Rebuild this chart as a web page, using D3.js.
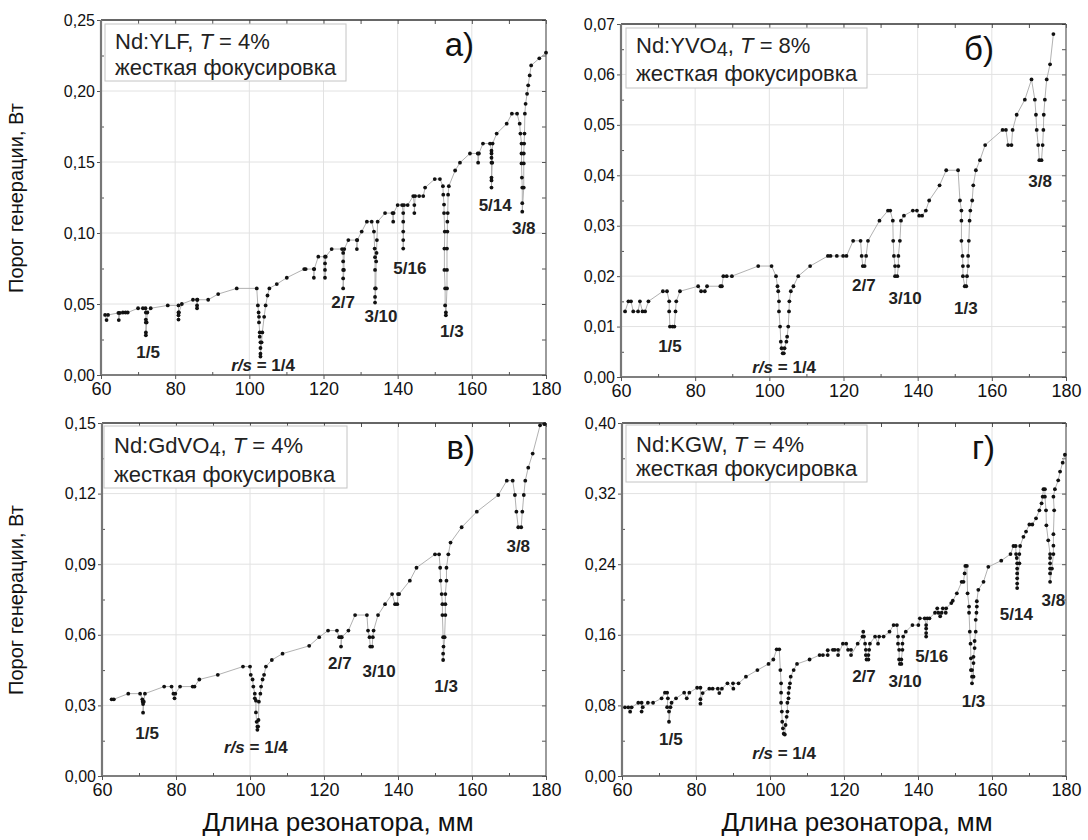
<!DOCTYPE html>
<html><head><meta charset="utf-8">
<script src="https://cdn.jsdelivr.net/npm/d3@7"></script>
<style>body{margin:0;background:#fff}svg{font-family:"Liberation Sans",Arial,sans-serif}</style>
</head><body>
<svg id="c" width="1088" height="840"></svg>
<script>
// ---------- DATA ----------
const xTicks = [60, 80, 100, 120, 140, 160, 180];
const xMinor = [70, 90, 110, 130, 150, 170];
const yTicksYLF = [0, 0.05, 0.10, 0.15, 0.20, 0.25];
const yTicksYVO = [0, 0.01, 0.02, 0.03, 0.04, 0.05, 0.06, 0.07];
const yTicksGdVO = [0, 0.03, 0.06, 0.09, 0.12, 0.15];
const yTicksKGW = [0, 0.08, 0.16, 0.24, 0.32, 0.40];

const dataYLF = [
[61.1,0.0423],[61.5,0.0387],[61.9,0.0423],
[64.7,0.0437],[64.8,0.0387],[65.1,0.0437],[65.9,0.044],[66.6,0.044],[67.2,0.044],
[70.0,0.047],[71.3,0.047],
[72.0,0.047],[72.1,0.044],[72.1,0.039],[72.1,0.037],[72.1,0.030],[72.1,0.028],[72.3,0.037],[72.5,0.044],
[73.4,0.047],[78.0,0.049],
[80.9,0.049],[80.9,0.044],[80.9,0.042],[80.9,0.039],[81.0,0.044],[81.8,0.050],
[84.8,0.053],[85.9,0.053],[85.9,0.049],[85.9,0.047],[86.0,0.053],
[88.9,0.053],[91.6,0.057],[96.6,0.061],
[102.0,0.061],[102.3,0.049],[102.5,0.044],[102.6,0.041],[102.6,0.037],[102.8,0.030],[102.8,0.027],[103.0,0.023],[103.0,0.019],[103.0,0.015],[103.0,0.013],[103.3,0.023],[103.5,0.030],[104.0,0.041],[104.4,0.049],[104.9,0.056],[105.4,0.061],
[107.4,0.064],[110.1,0.0685],
[114.8,0.0746],[115.2,0.0746],
[117.4,0.0746],[117.4,0.0685],[117.5,0.0746],
[118.6,0.0833],
[120.4,0.0833],[120.4,0.0786],[120.4,0.074],[120.4,0.0685],[120.6,0.0833],
[122.2,0.0887],
[125.0,0.0887],[125.3,0.086],[125.3,0.080],[125.3,0.074],[125.3,0.068],[125.3,0.061],[125.5,0.074],[125.6,0.0887],
[126.7,0.095],
[129.0,0.095],[129.0,0.0887],[129.1,0.095],
[130.3,0.101],
[131.7,0.108],[133.0,0.108],
[133.6,0.101],[133.8,0.089],[133.9,0.083],[133.9,0.074],[133.9,0.061],[133.9,0.055],[133.9,0.051],[134.1,0.061],[134.2,0.080],[134.3,0.086],[134.4,0.095],[134.6,0.108],
[136.6,0.114],[138.6,0.114],[138.8,0.108],[138.9,0.114],
[140.0,0.1197],[141.2,0.1197],[141.5,0.114],[141.5,0.108],[141.5,0.101],[141.5,0.095],[141.5,0.089],[141.7,0.1197],[142.7,0.1197],
[144.2,0.126],[144.5,0.1197],[144.5,0.114],[144.7,0.126],[145.8,0.126],[146.9,0.126],
[147.4,0.132],
[150.0,0.138],[151.4,0.138],
[152.2,0.133],[152.3,0.127],[152.5,0.120],[152.5,0.114],[152.7,0.101],[152.6,0.089],[152.6,0.074],[152.8,0.061],[152.8,0.049],[153.0,0.044],[153.0,0.042],[153.3,0.061],[153.3,0.074],[153.3,0.089],[153.4,0.101],[153.4,0.108],[153.5,0.114],[153.6,0.127],[153.8,0.133],
[155.5,0.144],[156.8,0.1495],[159.5,0.156],
[161.6,0.156],[161.7,0.1495],[161.9,0.156],
[163.0,0.163],
[164.9,0.163],[165.3,0.158],[165.3,0.156],[165.3,0.153],[165.3,0.1495],[165.3,0.139],[165.3,0.137],[165.3,0.132],[165.5,0.1495],[165.6,0.163],
[166.7,0.170],[169.4,0.177],
[170.8,0.184],[172.2,0.184],
[172.9,0.177],[173.1,0.170],[173.4,0.163],[173.4,0.156],[173.4,0.149],[173.5,0.139],[173.6,0.132],[173.6,0.121],[173.6,0.115],[174.0,0.132],[174.0,0.149],[174.0,0.156],[174.1,0.163],[174.2,0.170],[174.3,0.184],
[174.5,0.191],[174.9,0.198],[175.2,0.204],[175.6,0.211],[176.0,0.218],
[178.2,0.223],[180.0,0.227]
];

const dataYVO = [
[61.1,0.013],[62.0,0.015],[62.7,0.015],[63.3,0.013],[64.6,0.013],[65.1,0.015],[65.8,0.013],[66.5,0.013],[67.4,0.015],
[71.3,0.017],[72.4,0.017],
[73.0,0.015],[73.0,0.013],[73.2,0.010],[73.9,0.010],[74.4,0.010],[74.7,0.013],[74.9,0.015],
[75.9,0.017],
[80.8,0.018],[81.6,0.017],[82.6,0.017],[83.2,0.018],
[86.8,0.018],[87.2,0.018],[87.6,0.020],[88.5,0.020],[89.9,0.020],
[97.0,0.022],[100.6,0.022],
[101.8,0.020],[102.2,0.018],[102.4,0.017],[102.6,0.015],[102.6,0.013],[102.9,0.010],[103.1,0.007],[103.3,0.0057],[103.6,0.0047],[103.9,0.0047],[104.1,0.0057],[104.6,0.007],[104.8,0.008],[105.1,0.010],[105.3,0.013],[105.4,0.015],[105.8,0.017],[106.5,0.018],[107.8,0.020],
[111.0,0.022],
[115.8,0.024],[116.5,0.024],[118.2,0.024],[119.9,0.024],[120.8,0.024],
[122.6,0.027],
[124.6,0.027],[124.9,0.024],[125.2,0.022],[125.7,0.022],[126.1,0.024],[126.6,0.027],
[129.7,0.031],
[132.0,0.033],[132.6,0.033],
[133.3,0.031],[133.4,0.027],[133.6,0.024],[133.9,0.022],[133.9,0.020],[134.5,0.020],[134.8,0.022],[134.8,0.024],[135.2,0.027],[135.5,0.031],
[136.3,0.032],
[138.7,0.033],[139.8,0.033],[140.4,0.032],[141.2,0.032],[142.2,0.033],
[143.1,0.035],[145.9,0.038],
[147.7,0.041],[150.9,0.041],
[151.4,0.035],[151.8,0.033],[151.8,0.031],[151.8,0.027],[152.1,0.024],[152.2,0.022],[152.2,0.020],[152.7,0.018],[153.1,0.018],[153.3,0.020],[153.6,0.022],[153.6,0.024],[153.8,0.027],[154.0,0.031],[154.2,0.033],[154.7,0.035],[155.0,0.038],
[155.7,0.041],[156.8,0.043],[158.2,0.046],
[162.9,0.049],[163.8,0.049],[164.4,0.046],[165.3,0.046],[165.6,0.049],
[166.7,0.052],[168.9,0.055],[170.7,0.059],
[171.6,0.055],[171.9,0.052],[172.1,0.049],[172.5,0.046],[172.8,0.043],[173.4,0.043],[173.7,0.046],[173.9,0.049],[174.0,0.052],[174.3,0.055],[174.8,0.059],
[175.7,0.062],[176.6,0.068]
];

const dataGdVO = [
[62.6,0.0326],[63.2,0.0326],
[67.1,0.035],
[70.3,0.035],[70.9,0.0326],[71.0,0.0316],[71.1,0.0306],[71.1,0.0269],[71.3,0.0316],[71.6,0.035],
[76.8,0.038],
[78.8,0.038],[79.3,0.035],[79.6,0.033],[79.8,0.035],
[81.1,0.038],[84.5,0.038],[85.0,0.038],
[86.3,0.041],[91.3,0.043],
[98.1,0.0465],[100.0,0.0465],
[100.2,0.043],[100.7,0.041],[100.9,0.038],[101.3,0.035],[101.3,0.033],[101.6,0.032],[101.6,0.027],[101.8,0.023],[102.0,0.021],[102.0,0.0196],[102.2,0.021],[102.3,0.0238],[102.4,0.0316],[102.8,0.035],[103.0,0.038],[103.4,0.041],[103.8,0.043],[104.3,0.0465],
[105.9,0.0493],[108.8,0.052],[116.0,0.0553],[118.7,0.059],
[121.1,0.0618],[123.5,0.0618],
[124.1,0.059],[124.6,0.059],[124.6,0.055],[124.8,0.059],
[126.6,0.0618],
[128.4,0.0684],[131.6,0.0684],
[131.9,0.0618],[132.3,0.059],[132.5,0.055],[133.0,0.055],[133.2,0.059],[133.4,0.0618],
[134.6,0.0684],[136.5,0.073],
[138.4,0.0773],[139.2,0.073],[139.8,0.073],[140.0,0.0773],[140.3,0.0773],
[143.2,0.083],[145.0,0.0885],
[150.0,0.0942],[151.1,0.0942],
[151.4,0.0885],[151.5,0.083],[151.8,0.0773],[152.0,0.073],[152.0,0.0684],[152.2,0.059],[152.3,0.055],[152.2,0.052],[152.2,0.0493],[152.6,0.059],[152.8,0.0684],[152.8,0.073],[152.8,0.0773],[153.1,0.083],[153.1,0.0885],[153.6,0.0942],
[154.2,0.0992],[157.2,0.1057],[161.3,0.1123],[167.1,0.1194],
[169.4,0.1255],[171.0,0.1255],
[171.6,0.1194],[172.0,0.1123],[172.5,0.1057],[173.3,0.1057],[173.6,0.1123],[174.0,0.1194],[174.4,0.1255],
[175.2,0.131],[176.4,0.137],[178.4,0.149],[179.6,0.1495]
];

const dataKGW = [
[60.8,0.0778],[61.7,0.0778],[62.2,0.0729],[62.6,0.0778],
[64.4,0.083],[65.3,0.083],[65.3,0.073],[65.6,0.078],
[67.0,0.083],[68.4,0.083],
[70.7,0.088],[71.6,0.0944],[72.2,0.0944],
[72.4,0.088],[72.2,0.078],[72.7,0.073],[72.7,0.0615],[73.1,0.078],[73.4,0.083],
[74.6,0.088],
[76.8,0.0944],[77.5,0.088],[78.2,0.0944],
[80.3,0.100],[81.2,0.100],[81.2,0.087],[81.2,0.082],[81.8,0.094],
[83.6,0.099],[84.5,0.099],[85.9,0.099],[86.3,0.094],[87.0,0.099],
[88.5,0.105],[90.1,0.099],[90.0,0.105],[91.5,0.105],
[93.5,0.1125],[96.6,0.120],[99.6,0.127],[100.9,0.132],
[101.8,0.1435],[102.5,0.1435],
[102.8,0.120],[103.0,0.105],[103.0,0.0944],[103.0,0.083],[103.2,0.073],[103.3,0.0615],[103.5,0.054],[103.7,0.048],[104.0,0.047],[104.2,0.0578],[104.5,0.067],[104.7,0.073],[104.7,0.083],[105.0,0.088],[105.0,0.094],[105.2,0.100],[105.4,0.105],[105.6,0.1125],[106.4,0.120],[107.3,0.127],
[110.7,0.132],
[113.4,0.137],[114.3,0.137],[115.6,0.137],[115.6,0.1425],
[117.0,0.143],[117.5,0.143],[118.4,0.143],[118.4,0.137],
[119.7,0.150],[120.6,0.150],
[121.1,0.143],[121.9,0.143],[121.9,0.137],
[123.7,0.150],
[125.0,0.158],[125.2,0.1635],[125.4,0.158],[125.7,0.150],[125.9,0.143],[125.9,0.137],[126.1,0.132],[126.6,0.132],[126.6,0.137],[126.8,0.143],[127.0,0.150],
[128.4,0.158],[129.2,0.150],[129.5,0.158],[130.7,0.158],
[132.3,0.1635],
[133.4,0.171],[134.3,0.171],
[134.6,0.158],[134.6,0.150],[134.9,0.143],[134.9,0.132],[135.1,0.127],[135.5,0.127],[135.5,0.132],[135.8,0.143],[135.8,0.150],[136.0,0.158],
[136.7,0.1635],
[138.5,0.171],[140.1,0.171],
[140.5,0.1787],[141.8,0.1787],
[142.2,0.171],[142.2,0.167],[142.2,0.162],[142.2,0.158],[142.5,0.1787],[143.1,0.1787],
[144.6,0.185],[145.2,0.190],[145.5,0.185],[146.0,0.181],[146.4,0.185],[146.7,0.190],[147.5,0.185],[147.6,0.190],
[149.0,0.196],[149.4,0.1986],[150.5,0.207],
[151.8,0.220],[152.3,0.220],
[152.6,0.2296],[152.8,0.238],[153.2,0.238],
[153.4,0.207],[153.8,0.192],[153.8,0.185],[154.0,0.1635],[154.2,0.150],[154.3,0.1333],[154.3,0.120],[154.6,0.120],[154.6,0.1125],[154.6,0.105],
[155.0,0.1125],[155.0,0.128],[155.0,0.135],[155.3,0.145],[155.3,0.153],[155.6,0.1635],[155.6,0.177],[155.8,0.185],[155.9,0.192],[155.9,0.198],[156.3,0.211],[157.7,0.220],[159.0,0.237],
[162.5,0.244],[165.0,0.2515],
[165.8,0.2606],[166.4,0.2606],
[166.5,0.2515],[166.7,0.247],[166.8,0.241],[166.8,0.235],[166.8,0.2296],[166.8,0.224],[166.8,0.218],[166.8,0.213],[167.4,0.241],[167.4,0.2515],[167.6,0.2606],
[168.5,0.271],[169.2,0.277],
[170.1,0.285],[170.9,0.285],
[171.9,0.292],[172.8,0.301],[173.4,0.309],[173.7,0.3165],[173.9,0.325],[174.3,0.325],
[174.3,0.3165],[174.6,0.301],[174.7,0.284],[175.2,0.267],[175.7,0.2515],[175.7,0.247],[175.7,0.241],[175.7,0.235],[175.7,0.2296],[175.7,0.220],
[176.2,0.235],[176.6,0.2515],[176.6,0.261],[176.6,0.274],[176.8,0.301],[176.6,0.3165],[177.0,0.325],[177.9,0.335],[178.4,0.345],[179.1,0.355],[179.7,0.364]
];

const labelsYLF = [["1/5",72.7,0.0155],["r/s = 1/4",103.7,0.007],["2/7",125.3,0.051],["3/10",135.5,0.041],["5/16",143.3,0.075],["1/3",154.6,0.0305],["5/14",166.3,0.1197],["3/8",174,0.103]];
const labelsYVO = [["1/5",73.2,0.006],["r/s = 1/4",104,0.0019],["2/7",125.5,0.0182],["3/10",136.6,0.0156],["1/3",153,0.0136],["3/8",173,0.0387]];
const labelsGdVO = [["1/5",72.2,0.0179],["r/s = 1/4",101.6,0.0125],["2/7",124.3,0.048],["3/10",134.9,0.0443],["1/3",153,0.038],["3/8",172.5,0.0977]];
const labelsKGW = [["1/5",73.2,0.0415],["r/s = 1/4",103.8,0.0264],["2/7",125.4,0.113],["3/10",136.5,0.107],["5/16",143.7,0.135],["1/3",155,0.084],["5/14",166.6,0.1835],["3/8",176.6,0.199]];

const legendNames = [["Nd:YLF",null,"4%"],["Nd:YVO","4","8%"],["Nd:GdVO","4","4%"],["Nd:KGW",null,"4%"]];
const legendLine2 = "жесткая фокусировка";
const panelLetters = ["а)","б)","в)","г)"];
const yTitle = "Порог генерации, Вт";
const xTitle = "Длина резонатора, мм";

// ---------- LAYOUT ----------
const panels = [
  {x0:101,x1:546,y0:20,y1:375,yt:yTicksYLF,data:dataYLF,labels:labelsYLF,leg:[4,4,241,57,29,55]},
  {x0:621,x1:1066,y0:24,y1:377,yt:yTicksYVO,data:dataYVO,labels:labelsYVO,leg:[5,4,241,60,29,57]},
  {x0:102,x1:546,y0:423,y1:776,yt:yTicksGdVO,data:dataGdVO,labels:labelsGdVO,leg:[2,3,243,62,30,59]},
  {x0:622,x1:1066,y0:423,y1:776,yt:yTicksKGW,data:dataKGW,labels:labelsKGW,leg:[4,2,241,57,29,53]}
];

const svg = d3.select("#c");
const fmt = v => d3.format(".2f")(v).replace(".", ",");

panels.forEach((p, i) => {
  const x = d3.scaleLinear().domain([60,180]).range([p.x0,p.x1]);
  const ymax = p.yt[p.yt.length-1];
  const y = d3.scaleLinear().domain([0,ymax]).range([p.y1,p.y0]);
  const yMinor = p.yt.slice(0,-1).map((v,k)=> (v+p.yt[k+1])/2);
  const g = svg.append("g");

  // grid
  g.selectAll(".gx").data(xTicks.slice(1,-1)).join("line")
    .attr("x1",d=>x(d)).attr("x2",d=>x(d)).attr("y1",p.y0).attr("y2",p.y1)
    .attr("stroke","#e2e2e2").attr("stroke-width",1);
  g.selectAll(".gy").data(p.yt.slice(1,-1)).join("line")
    .attr("y1",d=>y(d)).attr("y2",d=>y(d)).attr("x1",p.x0).attr("x2",p.x1)
    .attr("stroke","#e2e2e2").attr("stroke-width",1);

  // axes
  const styleAxis = sel => { sel.select(".domain").remove(); sel.selectAll("line").attr("stroke","#555"); };
  g.append("g").attr("transform",`translate(0,${p.y1})`)
    .call(d3.axisBottom(x).tickValues(xTicks).tickSize(4).tickPadding(3).tickFormat(d3.format("d")))
    .call(styleAxis)
    .call(s=>s.selectAll("text").attr("font-size",18).attr("fill","#111").attr("font-family","Liberation Sans, Arial, sans-serif"));
  g.append("g").attr("transform",`translate(0,${p.y1})`)
    .call(d3.axisBottom(x).tickValues(xMinor).tickSize(-3).tickFormat(""))
    .call(styleAxis);
  g.append("g").attr("transform",`translate(0,${p.y0})`)
    .call(d3.axisTop(x).tickValues(xTicks.concat(xMinor)).tickSize(-4).tickFormat(""))
    .call(styleAxis);
  g.append("g").attr("transform",`translate(${p.x0},0)`)
    .call(d3.axisLeft(y).tickValues(p.yt).tickSize(4).tickPadding(2).tickFormat(fmt))
    .call(styleAxis)
    .call(s=>s.selectAll("text").attr("font-size",16).attr("fill","#111").attr("font-family","Liberation Sans, Arial, sans-serif"));
  g.append("g").attr("transform",`translate(${p.x0},0)`)
    .call(d3.axisLeft(y).tickValues(yMinor).tickSize(-3).tickFormat(""))
    .call(styleAxis);
  g.append("g").attr("transform",`translate(${p.x1},0)`)
    .call(d3.axisRight(y).tickValues(p.yt.concat(yMinor)).tickSize(-4).tickFormat(""))
    .call(styleAxis);

  // frame
  g.append("line").attr("x1",p.x0).attr("x2",p.x1).attr("y1",p.y0).attr("y2",p.y0).attr("stroke","#333").attr("stroke-width",1.3);
  g.append("line").attr("x1",p.x1).attr("x2",p.x1).attr("y1",p.y0).attr("y2",p.y1).attr("stroke","#666").attr("stroke-width",1.3);
  g.append("line").attr("x1",p.x0).attr("x2",p.x1).attr("y1",p.y1).attr("y2",p.y1).attr("stroke","#555").attr("stroke-width",1.6);
  g.append("line").attr("x1",p.x0).attr("x2",p.x0).attr("y1",p.y0).attr("y2",p.y1).attr("stroke","#777").attr("stroke-width",2.2);

  // line + dots
  g.append("path").datum(p.data)
    .attr("d", d3.line().x(d=>x(d[0])).y(d=>y(d[1])))
    .attr("fill","none").attr("stroke","#a8a8a8").attr("stroke-width",0.9);
  g.selectAll(".pt").data(p.data).join("circle")
    .attr("cx",d=>x(d[0])).attr("cy",d=>y(d[1])).attr("r",1.9).attr("fill","#111");

  // resonance labels
  p.labels.forEach(([t,lx,ly]) => {
    const tx = g.append("text").attr("x",x(lx)).attr("y",y(ly)).attr("text-anchor","middle")
      .attr("dominant-baseline","central").attr("font-size",17).attr("font-weight","bold").attr("fill","#222");
    if (t.startsWith("r/s")) {
      tx.append("tspan").attr("font-style","italic").text("r/s");
      tx.append("tspan").text(" = 1/4");
    } else tx.text(t);
  });

  // legend
  const [lx, ly, lw, lh, b1, b2] = p.leg;
  g.append("rect").attr("x",p.x0+lx).attr("y",p.y0+ly).attr("width",lw).attr("height",lh)
    .attr("fill","#fff").attr("stroke","#c4c4c4").attr("stroke-width",1);
  const ln = legendNames[i];
  const t1 = g.append("text").attr("x",p.x0+lx+10).attr("y",p.y0+b1).attr("font-size",22).attr("fill","#222");
  t1.append("tspan").text(ln[0]);
  if (ln[1]) t1.append("tspan").attr("font-size",20).attr("dy",3).text(ln[1]);
  t1.append("tspan").attr("dy", ln[1] ? -3 : 0).text(", ");
  t1.append("tspan").attr("font-style","italic").text("T");
  t1.append("tspan").text(" = " + ln[2]);
  g.append("text").attr("x",p.x0+lx+10).attr("y",p.y0+b2).attr("font-size",22).attr("fill","#222").text(legendLine2);

  // panel letter
  g.append("text").attr("x",p.x0+373).attr("y",p.y0+36).attr("text-anchor","end")
    .attr("font-size",33).attr("fill","#111").text(panelLetters[i]);
});

// axis titles
[[23,198],[23,600]].forEach(([tx,ty]) => {
  svg.append("text").attr("transform",`translate(${tx},${ty}) rotate(-90)`).attr("text-anchor","middle")
    .attr("font-size",20).attr("fill","#111").text(yTitle);
});
[[338,831],[857,831]].forEach(([tx,ty]) => {
  svg.append("text").attr("x",tx).attr("y",ty).attr("text-anchor","middle")
    .attr("font-size",26).attr("fill","#111").text(xTitle);
});
</script>
</body></html>
